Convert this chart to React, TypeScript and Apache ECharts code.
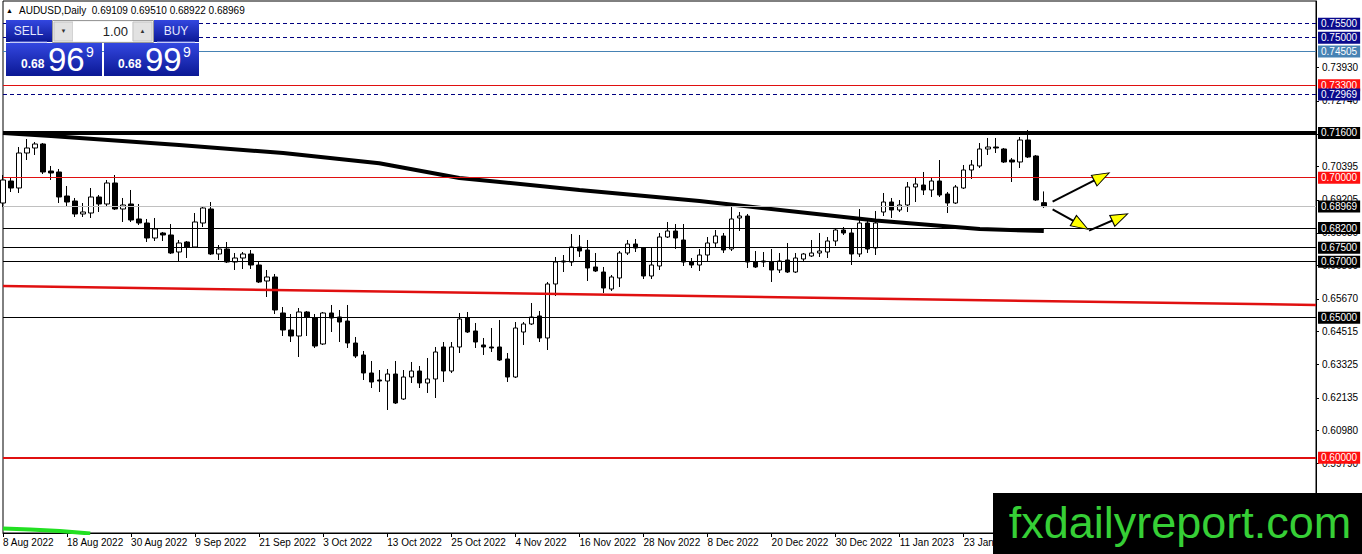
import React, { useEffect, useRef } from "react";
import * as echarts from "echarts";

// ---------- data ----------
const symbolName = "AUDUSD";
const timeframe = "Daily";
const startDate = "2022-08-08";
const totalSlots = 165; // bars + empty space on the right
const lastLabelIndex = 120;

const opens = [
  0.69096, 0.69882, 0.69632, 0.70882, 0.71061, 0.71204, 0.70239, 0.70204, 0.69346, 0.69168,
  0.68704, 0.68739, 0.69311, 0.69061, 0.69811, 0.68882, 0.69061, 0.68525, 0.68382, 0.67846,
  0.68025, 0.67954, 0.67346, 0.67704, 0.67525, 0.68382, 0.68882, 0.67275, 0.67454, 0.66989,
  0.67132, 0.67275, 0.66882, 0.66311, 0.66454, 0.65168, 0.64561, 0.64346, 0.65204, 0.64989,
  0.64061, 0.65168, 0.65025, 0.64882, 0.64096, 0.63668, 0.63025, 0.62775, 0.62739, 0.62989,
  0.62096, 0.62882, 0.63096, 0.62668, 0.62811, 0.63954, 0.63096, 0.63954, 0.64989, 0.64525,
  0.64025, 0.63954, 0.63954, 0.63525, 0.62882, 0.64489, 0.64775, 0.65061, 0.64275, 0.66204,
  0.66989, 0.66989, 0.67525, 0.67418, 0.66811, 0.66632, 0.66025, 0.66418, 0.67311, 0.67632,
  0.67489, 0.66489, 0.66846, 0.67882, 0.68096, 0.67775, 0.66989, 0.66882, 0.67239, 0.67668,
  0.67918, 0.67454, 0.68561, 0.68632, 0.66989, 0.67025, 0.66989, 0.66704, 0.67061, 0.66632,
  0.67096, 0.67204, 0.67311, 0.67346, 0.67739, 0.68132, 0.68025, 0.67275, 0.68382, 0.67489,
  0.68775, 0.69132, 0.68846, 0.69025, 0.69668, 0.69739, 0.69561, 0.69882, 0.69418, 0.69096,
  0.69632, 0.70275, 0.70418, 0.71025, 0.71096, 0.71025, 0.70632, 0.70561, 0.71346, 0.70775,
  0.69109,
];
const highs = [
  0.70096, 0.69989, 0.71096, 0.71382, 0.71275, 0.71239, 0.70418, 0.70311, 0.69704, 0.69275,
  0.69096, 0.69632, 0.69382, 0.69918, 0.70096, 0.69275, 0.69561, 0.69061, 0.68525, 0.68561,
  0.68061, 0.68346, 0.67775, 0.67739, 0.68739, 0.68989, 0.69132, 0.67596, 0.67704, 0.67311,
  0.67346, 0.67418, 0.67025, 0.66704, 0.66561, 0.65382, 0.65132, 0.65346, 0.65239, 0.65132,
  0.65204, 0.65454, 0.65275, 0.65454, 0.64311, 0.63811, 0.63454, 0.63132, 0.63168, 0.63454,
  0.63132, 0.63418, 0.63275, 0.63561, 0.63954, 0.64132, 0.64132, 0.65168, 0.65204, 0.64811,
  0.64275, 0.64632, 0.64918, 0.63739, 0.64846, 0.64846, 0.65525, 0.65239, 0.66275, 0.67168,
  0.67239, 0.67989, 0.67954, 0.67775, 0.67311, 0.66811, 0.66525, 0.67382, 0.67775, 0.67811,
  0.67525, 0.67489, 0.68025, 0.68418, 0.68346, 0.68346, 0.67132, 0.67454, 0.67882, 0.68132,
  0.68025, 0.68954, 0.68775, 0.68704, 0.67382, 0.67346, 0.67454, 0.67311, 0.67668, 0.67311,
  0.67311, 0.67775, 0.68025, 0.67882, 0.68204, 0.68239, 0.68168, 0.68882, 0.68561, 0.68811,
  0.69454, 0.69275, 0.69204, 0.69846, 0.69989, 0.70204, 0.69989, 0.70632, 0.69489, 0.69739,
  0.70454, 0.70632, 0.71239, 0.71418, 0.71418, 0.71061, 0.70704, 0.71454, 0.71704, 0.70811,
  0.6951,
];
const lows = [
  0.68954, 0.69489, 0.69454, 0.70632, 0.70811, 0.70132, 0.69918, 0.69096, 0.68989, 0.68596,
  0.68596, 0.68561, 0.68775, 0.68989, 0.68846, 0.68418, 0.68418, 0.68311, 0.67704, 0.67739,
  0.67739, 0.67275, 0.66989, 0.67132, 0.67489, 0.68239, 0.67239, 0.67061, 0.66954, 0.66704,
  0.66739, 0.66739, 0.66239, 0.65739, 0.65132, 0.64346, 0.64132, 0.63596, 0.64346, 0.63918,
  0.64025, 0.64489, 0.64132, 0.63918, 0.63561, 0.62775, 0.62489, 0.62346, 0.61704, 0.61918,
  0.62061, 0.62668, 0.62489, 0.62311, 0.62132, 0.62704, 0.63025, 0.63739, 0.64454, 0.63918,
  0.63668, 0.63775, 0.63454, 0.62704, 0.62846, 0.64025, 0.64739, 0.64132, 0.63846, 0.65775,
  0.66632, 0.66846, 0.67168, 0.66311, 0.66632, 0.65882, 0.65954, 0.66096, 0.67239, 0.67346,
  0.66382, 0.66382, 0.66704, 0.67846, 0.67454, 0.66846, 0.66775, 0.66668, 0.66989, 0.67489,
  0.67311, 0.67382, 0.68096, 0.66775, 0.66775, 0.66811, 0.66275, 0.66596, 0.66596, 0.66596,
  0.67025, 0.67168, 0.67168, 0.67132, 0.67561, 0.67954, 0.66882, 0.67168, 0.67311, 0.67239,
  0.68632, 0.68561, 0.68775, 0.68775, 0.69132, 0.69382, 0.69311, 0.69311, 0.68739, 0.69061,
  0.69596, 0.69954, 0.70346, 0.70811, 0.70882, 0.70525, 0.69846, 0.70346, 0.70704, 0.69168,
  0.68922,
];
const closes = [
  0.69918, 0.69632, 0.70882, 0.71061, 0.71204, 0.70204, 0.70168, 0.69311, 0.69132, 0.68704,
  0.68775, 0.69311, 0.69061, 0.69811, 0.68882, 0.69025, 0.68489, 0.68382, 0.67846, 0.68168,
  0.67954, 0.67311, 0.67668, 0.67525, 0.68418, 0.68918, 0.67275, 0.67454, 0.66989, 0.67132,
  0.67275, 0.66882, 0.66275, 0.66454, 0.65275, 0.64561, 0.64346, 0.65204, 0.65025, 0.63989,
  0.65168, 0.64989, 0.64846, 0.64096, 0.63632, 0.63025, 0.62704, 0.62739, 0.62989, 0.61954,
  0.62882, 0.63096, 0.62668, 0.62811, 0.63775, 0.63096, 0.63954, 0.64954, 0.64489, 0.64132,
  0.63954, 0.63918, 0.63489, 0.62882, 0.64632, 0.64775, 0.65025, 0.64275, 0.66204, 0.66989,
  0.67025, 0.67525, 0.67382, 0.66775, 0.66668, 0.66061, 0.66454, 0.67311, 0.67632, 0.67489,
  0.66489, 0.66882, 0.67882, 0.68096, 0.67846, 0.66989, 0.66882, 0.67239, 0.67668, 0.67918,
  0.67418, 0.68525, 0.68632, 0.66989, 0.66811, 0.66989, 0.66704, 0.67025, 0.66632, 0.67132,
  0.67275, 0.67311, 0.67382, 0.67739, 0.68132, 0.68025, 0.67275, 0.68382, 0.67454, 0.68382,
  0.69132, 0.68846, 0.69025, 0.69668, 0.69775, 0.69561, 0.69882, 0.69382, 0.69096, 0.69668,
  0.70275, 0.70454, 0.71025, 0.71096, 0.71061, 0.70561, 0.70561, 0.71346, 0.70739, 0.69204,
  0.68969,
];
const askPrice = 0.68999;

// moving average (thick black curve): [bar position, price]
const maPoints = [
  [0, 0.71597], [6, 0.7149], [22, 0.71168], [35, 0.70882], [47, 0.70514], [57, 0.69989],
  [72, 0.69561], [87, 0.69168], [109, 0.68471], [122, 0.68168], [130, 0.68096],
];
// sloping red trend line
const trendPoints = [[0, 0.66132], [164, 0.65454]];
// green indicator fragment bottom-left
const greenPoints = [[0, 0.57471], [3.4, 0.57436], [7.1, 0.57382], [10.9, 0.57293]];

// arrows: shaft start, head centre, head rotation
const arrowShafts = [
  [[131.1, 0.69143], [137.24, 0.70036]],
  [[131.1, 0.68871], [134.61, 0.68311]],
  [[135.65, 0.68107], [139.52, 0.68586]],
];
const arrowHeads = [
  [137.24, 0.70036],
  [134.61, 0.68311],
  [139.52, 0.68586],
];
const arrowRotations = [-62.4, -121, -65];

// horizontal levels
const levelPrices = [0.755, 0.75, 0.74505, 0.733, 0.72969, 0.716, 0.7, 0.68969, 0.682, 0.675, 0.67, 0.65, 0.6];
const levelKinds = ["order", "order", "blue", "red", "order", "thick", "red", "bid", "black", "black", "black", "black", "redThick"];

// price axis tick labels
const yTicks = [0.7393, 0.7274, 0.7155, 0.70395, 0.69205, 0.6803, 0.6686, 0.6567, 0.64515, 0.63325, 0.62135, 0.6098, 0.5979];
const yMin = 0.573107;
const yMax = 0.763107;

// ---------- helpers ----------
const MONTHS = ["Jan", "Feb", "Mar", "Apr", "May", "Jun", "Jul", "Aug", "Sep", "Oct", "Nov", "Dec"];
function weekdayLabels(startISO: string, count: number): string[] {
  const out: string[] = [];
  const d = new Date(startISO + "T00:00:00Z");
  while (out.length < count) {
    const wd = d.getUTCDay();
    if (wd !== 0 && wd !== 6) {
      out.push(`${d.getUTCDate()} ${MONTHS[d.getUTCMonth()]} ${d.getUTCFullYear()}`);
    }
    d.setUTCDate(d.getUTCDate() + 1);
  }
  return out;
}

const FONT = "Liberation Sans";

const kindStyle: Record<string, { color: string; width: number; type: any; bg: string }> = {
  order: { color: "#000080", width: 1, type: [4, 3], bg: "#0a0a8c" },
  blue: { color: "#4682b4", width: 1, type: "solid", bg: "#4682b4" },
  red: { color: "#e01010", width: 1, type: "solid", bg: "#ff1010" },
  redThick: { color: "#e01010", width: 2, type: "solid", bg: "#ff1010" },
  thick: { color: "#000000", width: 4, type: "solid", bg: "#000000" },
  bid: { color: "#c0c0c0", width: 1, type: "solid", bg: "#000000" },
  black: { color: "#000000", width: 1, type: "solid", bg: "#000000" },
};

function blueGrad() {
  return new echarts.graphic.LinearGradient(0, 0, 0, 1, [
    { offset: 0, color: "#3347e0" },
    { offset: 1, color: "#0b1894" },
  ]);
}

function txt(text: string, x: number, y: number, size: number, fill: string, opts: any = {}) {
  return {
    type: "text",
    x,
    y,
    z: 101,
    silent: true,
    style: {
      text,
      fill,
      fontSize: size,
      fontFamily: opts.family || FONT,
      fontWeight: opts.weight || "normal",
      align: opts.align || "left",
      verticalAlign: "middle",
      textAlign: opts.align || "left",
      textVerticalAlign: "middle",
    },
  };
}

export default function App() {
  const ref = useRef<HTMLDivElement>(null);

  useEffect(() => {
    document.body.style.margin = "0";
    document.body.style.overflow = "hidden";
    if (!ref.current) return;
    const chart = echarts.init(ref.current, undefined, { renderer: "svg" });

    const categories = weekdayLabels(startDate, totalSlots);
    const candleData = opens.map((o, i) => [o, closes[i], lows[i], highs[i]]);
    const last = opens.length - 1;

    const bidStr = closes[last].toFixed(5);
    const askStr = askPrice.toFixed(5);
    const header = `${symbolName},${timeframe}  ${opens[last].toFixed(5)} ${highs[last].toFixed(5)} ${lows[last].toFixed(5)} ${closes[last].toFixed(5)}`;

    const markData = levelPrices.map((p, i) => {
      const s = kindStyle[levelKinds[i]];
      return {
        yAxis: p,
        lineStyle: { color: s.color, width: s.width, type: s.type },
        label: {
          show: true,
          position: "end",
          distance: 2,
          formatter: p.toFixed(5),
          backgroundColor: s.bg,
          color: "#ffffff",
          fontSize: 10,
          fontFamily: FONT,
          padding: [1, 3, 0, 3],
          lineHeight: 11,
        },
      };
    });

    const graphic: any[] = [
      // header
      txt("\u25B2", 6, 10, 7, "#000"),
      txt(header, 19, 10, 10, "#000"),
      // sell / buy panel
      { type: "rect", z: 100, silent: true, shape: { x: 6, y: 20, width: 46, height: 22 }, style: { fill: blueGrad() } },
      { type: "rect", z: 100, silent: true, shape: { x: 154, y: 20, width: 45, height: 22 }, style: { fill: blueGrad() } },
      { type: "rect", z: 100, silent: true, shape: { x: 6, y: 43, width: 96, height: 33 }, style: { fill: blueGrad() } },
      { type: "rect", z: 100, silent: true, shape: { x: 104, y: 43, width: 95, height: 33 }, style: { fill: blueGrad() } },
      { type: "rect", z: 100, silent: true, shape: { x: 52.5, y: 20.5, width: 101, height: 22 }, style: { fill: "#f4f4f4", stroke: "#9a9a9a", lineWidth: 1 } },
      { type: "rect", z: 101, silent: true, shape: { x: 54, y: 22, width: 19, height: 19 }, style: { fill: "#e2e2e2", stroke: "#c4c4c4", lineWidth: 1 } },
      { type: "rect", z: 101, silent: true, shape: { x: 73, y: 22, width: 59, height: 19 }, style: { fill: "#ffffff" } },
      { type: "rect", z: 101, silent: true, shape: { x: 133, y: 22, width: 19, height: 19 }, style: { fill: "#e2e2e2", stroke: "#c4c4c4", lineWidth: 1 } },
      { type: "line", z: 101, silent: true, shape: { x1: 10, y1: 42, x2: 47, y2: 42 }, style: { stroke: "#8c98f0", lineWidth: 1 } },
      { type: "line", z: 101, silent: true, shape: { x1: 157, y1: 42, x2: 195, y2: 42 }, style: { stroke: "#8c98f0", lineWidth: 1 } },
      txt("\u25BC", 63.5, 31, 6, "#333", { align: "center" }),
      txt("\u25B2", 142.5, 31, 6, "#333", { align: "center" }),
      txt("1.00", 128, 31, 13, "#222", { align: "right" }),
      txt("SELL", 28.5, 31, 12, "#e4e8ff", { align: "center" }),
      txt("BUY", 176, 31, 12, "#e4e8ff", { align: "center" }),
      txt(bidStr.slice(0, 4), 21, 64, 12, "#ffffff", { weight: "bold" }),
      txt(bidStr.slice(4, 6), 48, 59, 33, "#ffffff"),
      txt(bidStr.slice(6), 86, 52, 14, "#ffffff"),
      txt(askStr.slice(0, 4), 118, 64, 12, "#ffffff", { weight: "bold" }),
      txt(askStr.slice(4, 6), 145, 59, 33, "#ffffff"),
      txt(askStr.slice(6), 183, 52, 14, "#ffffff"),
      // watermark
      { type: "rect", z: 100, silent: true, shape: { x: 993, y: 493, width: 369, height: 61 }, style: { fill: "#000000" } },
      txt("fxdailyreport.com", 1180, 522, 45, "#36cf36", { align: "center" }),
    ];

    const series: any[] = [
      {
        type: "candlestick",
        name: "AUDUSD",
        xAxisIndex: 0,
        yAxisIndex: 0,
        data: candleData,
        barWidth: 5,
        z: 2,
        itemStyle: {
          color: "#ffffff",
          color0: "#000000",
          borderColor: "#000000",
          borderColor0: "#000000",
          borderWidth: 1,
        },
        markLine: {
          silent: true,
          symbol: ["none", "none"],
          animation: false,
          precision: 5,
          data: markData,
        },
      },
      {
        type: "line",
        name: "MA",
        xAxisIndex: 1,
        yAxisIndex: 0,
        data: maPoints,
        showSymbol: false,
        symbol: "none",
        lineStyle: { color: "#000000", width: 4 },
        z: 4,
        silent: true,
      },
      {
        type: "line",
        name: "trend",
        xAxisIndex: 1,
        yAxisIndex: 0,
        data: trendPoints,
        symbol: "none",
        lineStyle: { color: "#e01010", width: 2.5 },
        z: 3,
        silent: true,
      },
      {
        type: "line",
        name: "green",
        xAxisIndex: 1,
        yAxisIndex: 0,
        data: greenPoints,
        symbol: "none",
        lineStyle: { color: "#22e022", width: 4 },
        z: 3,
        silent: true,
      },
      ...arrowShafts.map((seg, i) => ({
        type: "line",
        name: "arrow" + i,
        xAxisIndex: 1,
        yAxisIndex: 0,
        data: seg,
        symbol: "none",
        lineStyle: { color: "#000000", width: 2 },
        z: 5,
        silent: true,
      })),
      {
        type: "scatter",
        name: "heads",
        xAxisIndex: 1,
        yAxisIndex: 0,
        symbol: "triangle",
        symbolSize: [12, 17],
        z: 6,
        silent: true,
        itemStyle: { color: "#ffff00", borderColor: "#000000", borderWidth: 1, opacity: 1 },
        data: arrowHeads.map((p, i) => ({ value: p, symbolRotate: arrowRotations[i] })),
      },
    ];

    chart.setOption({
      animation: false,
      backgroundColor: "#ffffff",
      textStyle: { fontFamily: FONT },
      grid: {
        left: 3,
        top: 1,
        right: 46,
        bottom: 21,
        show: true,
        borderColor: "#000000",
        borderWidth: 1,
        backgroundColor: "#ffffff",
      },
      xAxis: [
        {
          type: "category",
          data: categories,
          boundaryGap: false,
          axisLine: { show: true, onZero: false, lineStyle: { color: "#000000", width: 1 } },
          axisTick: { show: true, interval: 7, length: 4, lineStyle: { color: "#000000" } },
          axisLabel: {
            interval: 7,
            align: "left",
            margin: 4,
            fontSize: 10,
            fontFamily: FONT,
            color: "#000000",
            formatter: (v: string, idx: number) => (idx <= lastLabelIndex ? v : ""),
          },
          splitLine: { show: false },
        },
        {
          type: "value",
          min: 0,
          max: totalSlots - 1,
          show: false,
          axisLine: { onZero: false },
          splitLine: { show: false },
        },
      ],
      yAxis: [
        {
          type: "value",
          position: "right",
          min: yMin,
          max: yMax,
          scale: true,
          axisLine: { show: true, onZero: false, lineStyle: { color: "#000000", width: 1 } },
          axisTick: { show: true, length: 3, customValues: yTicks, lineStyle: { color: "#000000" } },
          axisLabel: {
            customValues: yTicks,
            margin: 6,
            fontSize: 10,
            fontFamily: FONT,
            color: "#000000",
            formatter: (v: number) => v.toFixed(5),
          },
          splitLine: { show: false },
        },
      ],
      graphic,
      series,
    });

    return () => {
      chart.dispose();
    };
  }, []);

  return <div ref={ref} style={{ width: 1362, height: 554 }} />;
}
